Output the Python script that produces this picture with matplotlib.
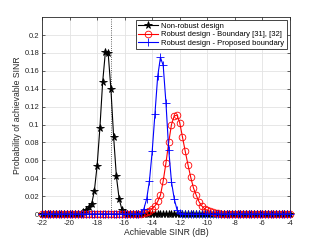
import numpy as np
import matplotlib
matplotlib.use("Agg")
import matplotlib.pyplot as plt

plt.rcParams["font.family"] = ["Liberation Sans", "DejaVu Sans"]

# -----------------------------------------------------------
# Data: SINR grid (dB) and probability of each design
# -----------------------------------------------------------
sinr_db = np.round(np.arange(-22, -3.99, 0.2), 1)

non_robust = [
    0, 0, 0, 0, 0, 0, 0, 0, 0, 0,
    0, 0, 0, 0, 0.0005, 0.002, 0.004, 0.008, 0.011, 0.026,
    0.054, 0.096, 0.147, 0.181, 0.180, 0.140, 0.086, 0.042, 0.017, 0.005,
    0.001, 0, 0, 0, 0, 0, 0, 0, 0, 0,
    0, 0, 0, 0, 0, 0, 0, 0, 0, 0,
    0, 0, 0, 0, 0, 0, 0, 0, 0, 0,
    0, 0, 0, 0, 0, 0, 0, 0, 0, 0,
    0, 0, 0, 0, 0, 0, 0, 0, 0, 0,
    0, 0, 0, 0, 0, 0, 0, 0, 0, 0,
    0,
]

robust_boundary = [
    0, 0, 0, 0, 0, 0, 0, 0, 0, 0,
    0, 0, 0, 0, 0, 0, 0, 0, 0, 0,
    0, 0, 0, 0, 0, 0, 0, 0, 0, 0,
    0, 0, 0, 0, 0, 0, 0.0005, 0.001, 0.002, 0.0035,
    0.006, 0.009, 0.014, 0.021, 0.037, 0.057, 0.080, 0.100, 0.1095, 0.1106,
    0.102, 0.086, 0.070, 0.055, 0.041, 0.029, 0.021, 0.0137, 0.009, 0.006,
    0.004, 0.003, 0.002, 0.0015, 0.001, 0.0005, 0, 0, 0, 0,
    0, 0, 0, 0, 0, 0, 0, 0, 0, 0,
    0, 0, 0, 0, 0, 0, 0, 0, 0, 0,
    0,
]

robust_proposed = [
    0, 0, 0, 0, 0, 0, 0, 0, 0, 0,
    0, 0, 0, 0, 0, 0, 0, 0, 0, 0,
    0, 0, 0, 0, 0, 0, 0, 0, 0, 0,
    0, 0, 0, 0, 0, 0, 0.001, 0.006, 0.017, 0.037,
    0.070, 0.112, 0.154, 0.175, 0.166, 0.124, 0.072, 0.036, 0.017, 0.005,
    0.001, 0, 0, 0, 0, 0, 0, 0, 0, 0,
    0, 0, 0, 0, 0, 0, 0, 0, 0, 0,
    0, 0, 0, 0, 0, 0, 0, 0, 0, 0,
    0, 0, 0, 0, 0, 0, 0, 0, 0, 0,
    0,
]

target_sinr = -17
x_ticks = np.arange(-22, -3, 2)
y_ticks = np.round(np.arange(0, 0.201, 0.02), 2)

# -----------------------------------------------------------
# Figure
# -----------------------------------------------------------
fig = plt.figure(figsize=(3.21, 2.41), dpi=100)
ax = fig.add_axes([0.131, 0.112, 0.772, 0.817])

ax.plot(sinr_db, non_robust, color="black", lw=0.8, marker="*", ms=5.5,
        mew=0.6, clip_on=False, zorder=3, label="Non-robust design")
ax.plot(sinr_db, robust_boundary, color="red", lw=0.8, marker="o", ms=4.8,
        mfc="none", mew=0.6, clip_on=False, zorder=3,
        label="Robust design - Boundary [31], [32]")
ax.plot(sinr_db, robust_proposed, color="blue", lw=0.8, marker="+", ms=5.5,
        mew=0.6, clip_on=False, zorder=4,
        label="Robust design - Proposed boundary")

ax.axvline(target_sinr, color="#333333", lw=0.6, ls=":", zorder=2)

ax.set_xlim(-22, -4)
ax.set_ylim(0, 0.22)
ax.set_xticks(x_ticks)
ax.set_xticklabels([f"{t:g}" for t in x_ticks])
ax.set_yticks(y_ticks)
ax.set_yticklabels([f"{t:g}" for t in y_ticks])

ax.grid(True, color="#e3e3e3", lw=0.6)
ax.set_axisbelow(True)
ax.tick_params(direction="in", top=True, right=True, labelsize=5.5,
               length=2.5, width=0.5, pad=2, colors="#262626")
ax.tick_params(axis="x", pad=4)
for s in ax.spines.values():
    s.set_linewidth(0.6)
    s.set_color("#262626")

ax.set_xlabel("Achievable SINR (dB)", fontsize=6.2, labelpad=1, color="#262626")
ax.set_ylabel("Probability of achievable SINR", fontsize=6.2, labelpad=2,
              color="#262626")

leg = ax.legend(loc="upper right", fontsize=5.5, handlelength=2.6,
                borderpad=0.3, labelspacing=0.15, handletextpad=0.4,
                borderaxespad=0.4, fancybox=False, framealpha=1)
leg.get_frame().set_edgecolor("#262626")
leg.get_frame().set_linewidth(0.6)

fig.savefig("out.png", dpi=100)
